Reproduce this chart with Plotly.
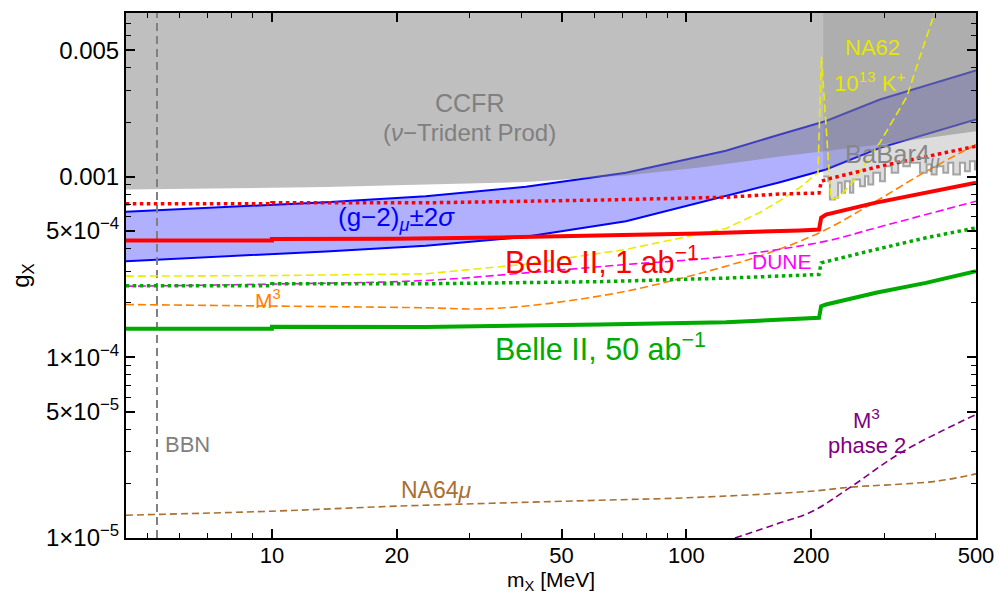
import numpy as np
import plotly.graph_objects as go

FONT = "Liberation Sans, Arial, sans-serif"

# ---------------- data ----------------
# (g-2)_mu +/- 2 sigma band
m_g2 = [4.44, 7.74, 13.5, 23.5, 41.0, 71.5, 124.6, 168.2, 217.3, 293.3, 500]
g2_upper = [6.38e-4, 6.78e-4, 7.20e-4, 7.78e-4, 8.77e-4, 1.048e-3, 1.39e-3, 1.708e-3, 2.03e-3, 2.667e-3, 3.86e-3]
g2_lower = [3.40e-4, 3.61e-4, 3.85e-4, 4.135e-4, 4.64e-4, 5.66e-4, 7.78e-4, 9.30e-4, 1.093e-3, 1.441e-3, 2.067e-3]

# CCFR (nu-trident) exclusion boundary
m_ccfr = [4.44, 7.74, 13.5, 23.5, 41.0, 71.5, 107.8, 168.2, 293.3, 500]
g_ccfr = [8.47e-4, 8.58e-4, 8.75e-4, 9.03e-4, 9.32e-4, 1.013e-3, 1.12e-3, 1.29e-3, 1.503e-3, 1.78e-3]

# BaBar 4mu exclusion boundary (jagged)
m_babar = [214, 220.0, 222.0, 228.3, 232.5, 237.0, 241.4, 248.2, 252.8, 262.4, 269.8,
           274.8, 282.5, 293.3, 301.5, 312.9, 324.6, 333.8, 346.4, 366.2, 380.1, 390.8,
           401.8, 416.9, 428.5, 440.6, 457.3, 470.2, 483.4, 497, 500]
g_babar = [1.0e-3, 9.42e-4, 7.46e-4, 7.62e-4, 9.23e-4, 8.12e-4, 9.42e-4, 8.12e-4, 9.63e-4,
           8.84e-4, 1.004e-3, 9.03e-4, 1.048e-3, 9.42e-4, 1.140e-3, 1.048e-3, 1.191e-3,
           1.140e-3, 1.191e-3, 1.048e-3, 1.165e-3, 1.026e-3, 1.140e-3, 1.048e-3, 1.191e-3,
           1.026e-3, 1.191e-3, 1.070e-3, 1.215e-3, 1.093e-3, 1.093e-3]

# Belle II 1 ab^-1 (solid and dotted)
m_b1 = [4.44, 10, 10, 19.9, 35.5, 61.9, 107.8, 188, 209, 211.5, 217.3, 285, 378, 500]
g_b1 = [4.43e-4, 4.43e-4, 4.51e-4, 4.52e-4, 4.60e-4, 4.69e-4, 4.84e-4, 5.03e-4, 5.09e-4,
        5.91e-4, 6.16e-4, 7.15e-4, 8.12e-4, 9.23e-4]
m_b1d = [4.44, 10, 10, 23.5, 61.9, 124.6, 168.2, 209, 211.5, 217.3, 293.3, 386, 500]
g_b1d = [7.06e-4, 7.06e-4, 7.15e-4, 7.15e-4, 7.41e-4, 7.68e-4, 8.0e-4, 8.1e-4, 9.38e-4,
         9.63e-4, 1.14e-3, 1.295e-3, 1.47e-3]

# Belle II 50 ab^-1 (solid and dotted)
m_b50 = [4.44, 10, 10, 23.5, 61.9, 124.6, 209, 211.5, 217.3, 286.8, 378.6, 500]
g_b50 = [1.437e-4, 1.437e-4, 1.474e-4, 1.47e-4, 1.518e-4, 1.563e-4, 1.653e-4, 1.916e-4,
         1.958e-4, 2.273e-4, 2.58e-4, 2.99e-4]
m_b50d = [4.44, 10, 10, 23.5, 61.9, 124.6, 209, 211.5, 286.8, 378.6, 500]
g_b50d = [2.49e-4, 2.49e-4, 2.55e-4, 2.55e-4, 2.62e-4, 2.74e-4, 2.87e-4, 3.33e-4, 3.95e-4,
          4.58e-4, 5.20e-4]

# DUNE
m_dune = [4.44, 10, 23.5, 41.0, 71.5, 124.6, 217.3, 286.8, 500]
g_dune = [2.47e-4, 2.54e-4, 2.66e-4, 2.93e-4, 3.26e-4, 3.61e-4, 4.39e-4, 5.20e-4, 7.30e-4]

# M^3
m_m3 = [4.44, 10, 23.5, 31.07, 41.0, 71.5, 124.6, 164.5, 217.3, 286.8, 378.6, 500]
g_m3 = [1.958e-4, 1.92e-4, 1.878e-4, 1.85e-4, 1.92e-4, 2.32e-4, 3.19e-4, 3.90e-4, 5.09e-4,
        7.30e-4, 1.066e-3, 1.503e-3]

# NA62 10^13 K+
m_na62 = [4.44, 10, 23.5, 40.3, 71.5, 124.6, 150.5, 168.2, 188, 207.8, 211.8, 223.4,
          234.8, 252.4, 293.3, 340.6, 366.2, 398]
g_na62 = [2.81e-4, 2.83e-4, 2.895e-4, 3.26e-4, 3.95e-4, 5.16e-4, 6.32e-4, 7.36e-4, 8.69e-4,
          1.052e-3, 4.61e-3, 7.46e-4, 7.75e-4, 9.38e-4, 1.542e-3, 2.77e-3, 4.61e-3, 8.11e-3]

# NA64 mu
m_na64 = [4.44, 10, 20, 61.9, 100, 200, 248, 400, 500]
g_na64 = [1.337e-5, 1.407e-5, 1.50e-5, 1.618e-5, 1.669e-5, 1.815e-5, 1.91e-5, 2.06e-5, 2.265e-5]

# M^3 phase 2
m_m3p2 = [131.0, 168.2, 200.9, 248, 333.2, 500]
g_m3p2 = [1.0e-5, 1.213e-5, 1.40e-5, 1.90e-5, 3.01e-5, 4.82e-5]

# BBN bound
BBN_MASS = 5.28

# axes
X_RANGE = [4.445, 500]
Y_RANGE = [1e-5, 8.03e-3]
REGION_TOP = 0.0105
X_TICKS = [10, 20, 50, 100, 200, 500]
X_TICKTEXT = ["10", "20", "50", "100", "200", "500"]
X_MINOR = [5, 6, 7, 8, 9, 30, 40, 60, 70, 80, 90, 300, 400]
Y_TICKS = [1e-5, 5e-5, 1e-4, 5e-4, 1e-3, 5e-3]
Y_TICKTEXT = ["1×10<sup>−5</sup>", "5×10<sup>−5</sup>", "1×10<sup>−4</sup>",
              "5×10<sup>−4</sup>", "0.001", "0.005"]
Y_MINOR = [2e-5, 3e-5, 4e-5, 6e-5, 7e-5, 8e-5, 9e-5,
           2e-4, 3e-4, 4e-4, 6e-4, 7e-4, 8e-4, 9e-4,
           2e-3, 3e-3, 4e-3, 6e-3, 7e-3, 8e-3]
GRID_X = [7, 10, 40, 70, 100, 400]
GRID_Y = [4e-5, 7e-5, 1e-4, 4e-4, 7e-4, 1e-3, 4e-3, 7e-3]

# labels: text, mass, coupling, colour, size
LABELS = [
    ("CCFR", 30.0, 2.54e-3, "rgb(128,128,128)", 25),
    ("(<i>ν</i>−Trident Prod)", 30.0, 1.75e-3, "rgb(128,128,128)", 24),
    ("(g−2)<sub><i>μ</i></sub>±2<i>σ</i>", 20.0, 5.85e-4, "rgb(0,0,255)", 26),
    ("Belle II, 1 ab<sup>−1</sup>", 62.5, 3.45e-4, "rgb(255,0,0)", 30.5),
    ("DUNE", 170.1, 3.40e-4, "rgb(255,0,255)", 21),
    ("M<sup>3</sup>", 9.78, 2.10e-4, "rgb(255,128,0)", 21),
    ("Belle II, 50 ab<sup>−1</sup>", 62.2, 1.14e-4, "rgb(0,170,0)", 30.5),
    ("BBN", 6.27, 3.29e-5, "rgb(128,128,128)", 22),
    ("NA64<i>μ</i>", 25.0, 1.855e-5, "rgb(168,112,50)", 23),
    ("M<sup>3</sup>", 272.8, 4.55e-5, "rgb(128,0,128)", 22),
    ("phase 2", 272.8, 3.25e-5, "rgb(128,0,128)", 22),
    ("NA62", 282, 5.15e-3, "rgb(230,230,0)", 22),
    ("10<sup>13</sup> K<sup>+</sup>", 277, 3.35e-3, "rgb(230,230,0)", 22),
    ("BaBar4<sub><i>μ</i></sub>", 315, 1.30e-3, "rgb(135,135,135)", 25.5),
]

# ---------------- figure ----------------
fig = go.Figure()


def line(x, y, color, width, dash="solid", shape="linear"):
    fig.add_trace(go.Scatter(x=x, y=y, mode="lines", hoverinfo="skip", showlegend=False,
                             line=dict(color=color, width=width, dash=dash, shape=shape)))


# g-2 band
fig.add_trace(go.Scatter(x=m_g2 + m_g2[::-1], y=g2_upper + g2_lower[::-1], fill="toself",
                         fillcolor="rgb(176,176,255)", mode="lines", line=dict(width=0),
                         hoverinfo="skip", showlegend=False))
line(m_g2, g2_upper, "rgb(0,0,255)", 2)
line(m_g2, g2_lower, "rgb(0,0,255)", 2)

# CCFR region
fig.add_trace(go.Scatter(x=m_ccfr + [X_RANGE[1], X_RANGE[0]],
                         y=g_ccfr + [REGION_TOP, REGION_TOP], fill="toself",
                         fillcolor="rgba(128,128,128,0.5)", mode="lines", line=dict(width=0),
                         hoverinfo="skip", showlegend=False))
# BaBar region
fig.add_trace(go.Scatter(x=m_babar + [X_RANGE[1], m_babar[0]],
                         y=g_babar + [REGION_TOP, REGION_TOP], fill="toself",
                         fillcolor="rgba(128,128,128,0.28)", mode="lines",
                         line=dict(width=0, shape="hv"),
                         hoverinfo="skip", showlegend=False))
line(m_babar, g_babar, "rgba(150,150,150,0.85)", 2, "solid", "hv")

# BBN
line([BBN_MASS, BBN_MASS], [Y_RANGE[0], REGION_TOP], "rgb(128,128,128)", 2, "8px,5px")

# projections
line(m_na64, g_na64, "rgb(168,112,50)", 1.6, "7px,4px", "spline")
line(m_m3p2, g_m3p2, "rgb(128,0,128)", 1.6, "7px,4px", "spline")
line(m_m3, g_m3, "rgb(255,128,0)", 1.6, "8px,4px", "spline")
line(m_dune, g_dune, "rgb(255,0,255)", 1.6, "8px,4px", "spline")
line(m_na62, g_na62, "rgb(235,235,0)", 1.6, "8px,4px")
line(m_b50d, g_b50d, "rgb(0,170,0)", 3.5, "dot")
line(m_b50, g_b50, "rgb(0,170,0)", 4)
line(m_b1d, g_b1d, "rgb(255,0,0)", 3.5, "dot")
line(m_b1, g_b1, "rgb(255,0,0)", 4)

# grid lines (behind everything)
GRID_STYLE = dict(color="rgb(195,195,195)", width=1, dash="6px,3px,1px,3px")
shapes = []
for v in GRID_X:
    shapes.append(dict(type="line", xref="x", yref="paper", x0=np.log10(v), x1=np.log10(v),
                       y0=0, y1=1, layer="below", line=GRID_STYLE))
for v in GRID_Y:
    shapes.append(dict(type="line", xref="paper", yref="y", x0=0, x1=1,
                       y0=np.log10(v), y1=np.log10(v), layer="below", line=GRID_STYLE))

annotations = []
for text, mx, gx, col, size in LABELS:
    annotations.append(dict(text=text, x=np.log10(mx), y=np.log10(gx), xref="x", yref="y",
                            showarrow=False, xanchor="center", yanchor="middle",
                            font=dict(family=FONT, size=size, color=col)))
# axis titles
annotations.append(dict(text="m<sub>X</sub> [MeV]", xref="paper", yref="paper", x=0.5, y=0,
                        yshift=-57, showarrow=False, xanchor="center", yanchor="bottom",
                        borderpad=0,
                        font=dict(family=FONT, size=21, color="black")))
annotations.append(dict(text="g<sub>X</sub>", xref="paper", yref="paper", x=-0.122, y=0.50,
                        showarrow=False, xanchor="center", yanchor="middle", textangle=-90,
                        font=dict(family=FONT, size=24, color="black")))

axis_common = dict(type="log", ticks="inside", ticklen=9, tickwidth=1.5, tickcolor="black",
                   showline=True, linewidth=2, linecolor="black", mirror="ticks",
                   showgrid=False, zeroline=False, automargin=False)

fig.update_xaxes(range=[np.log10(X_RANGE[0]), np.log10(X_RANGE[1])], tickmode="array",
                 tickvals=X_TICKS, ticktext=X_TICKTEXT, ticklabelstandoff=-3,
                 tickfont=dict(family=FONT, size=22, color="black"),
                 minor=dict(tickvals=X_MINOR, ticks="inside", ticklen=5, tickwidth=1,
                            tickcolor="black", showgrid=False),
                 **axis_common)
fig.update_yaxes(range=[np.log10(Y_RANGE[0]), np.log10(Y_RANGE[1])], tickmode="array",
                 tickvals=Y_TICKS, ticktext=Y_TICKTEXT,
                 tickfont=dict(family=FONT, size=24, color="black"),
                 minor=dict(tickvals=Y_MINOR, ticks="inside", ticklen=5, tickwidth=1,
                            tickcolor="black", showgrid=False),
                 **axis_common)

fig.update_layout(width=998, height=595, margin=dict(l=126, r=22, t=13, b=57),
                  plot_bgcolor="white", paper_bgcolor="white", showlegend=False,
                  shapes=shapes, annotations=annotations,
                  font=dict(family=FONT, size=20, color="black"))

fig.write_html("out.html")
